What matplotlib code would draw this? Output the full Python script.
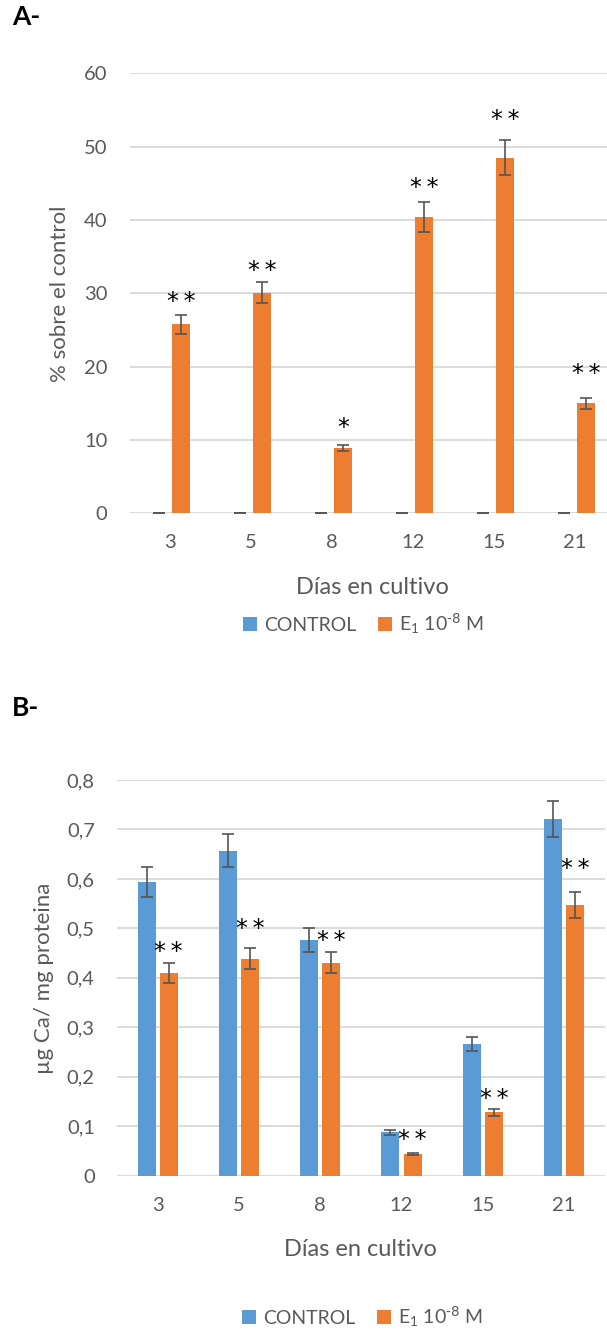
import matplotlib.pyplot as plt
import numpy as np

plt.rcParams["font.family"] = ["Lato", "DejaVu Sans"]
plt.rcParams["mathtext.default"] = "regular"

DAYS = ["3", "5", "8", "12", "15", "21"]
SERIES = ["CONTROL", "E$_{1}$ 10$^{\\text{-8}}$ M"]

# A- : % sobre el control
A_CONTROL = [0, 0, 0, 0, 0, 0]
A_CONTROL_ERR = [0, 0, 0, 0, 0, 0]
A_E1 = [25.8, 30.1, 8.9, 40.4, 48.5, 15.0]
A_E1_ERR = [1.3, 1.45, 0.45, 2.0, 2.4, 0.75]
A_STARS = ["**", "**", "*", "**", "**", "**"]
A_TICKS = [0, 10, 20, 30, 40, 50, 60]
A_TICK_LABELS = ["0", "10", "20", "30", "40", "50", "60"]

# B- : ug Ca / mg proteina
B_CONTROL = [0.594, 0.657, 0.476, 0.088, 0.266, 0.721]
B_CONTROL_ERR = [0.030, 0.033, 0.024, 0.005, 0.014, 0.036]
B_E1 = [0.410, 0.439, 0.431, 0.043, 0.128, 0.547]
B_E1_ERR = [0.021, 0.022, 0.022, 0.002, 0.007, 0.027]
B_STARS = ["**", "**", "**", "**", "**", "**"]
B_TICKS = [0, 0.1, 0.2, 0.3, 0.4, 0.5, 0.6, 0.7, 0.8]
B_TICK_LABELS = ["0", "0,1", "0,2", "0,3", "0,4", "0,5", "0,6", "0,7", "0,8"]

# gap between error bar top and the significance marks
A_STAR_GAP = [2.3, 2.05, 2.9, 2.6, 3.3, 3.85]
B_STAR_GAP = [0.030, 0.047, 0.029, 0.036, 0.029, 0.055]

BLUE = "#5b9bd5"
ORANGE = "#ed7d31"
GRID = "#d9d9d9"
TEXT = "#595959"
ERR = "#555555"

W, H = 607, 1331


def px_axes(fig, left, top, right, bottom):
    return fig.add_axes([left / W, 1 - bottom / H, (right - left) / W, (bottom - top) / H])


def draw_panel(ax, control, control_err, e1, e1_err, stars, gaps, ticks, tick_labels):
    x = np.arange(len(DAYS))
    off, width = 0.136, 0.222
    err_style = dict(ecolor=ERR, elinewidth=1.2, capsize=4.3, capthick=1.2)
    bars_c = ax.bar(x - off, control, width, color=BLUE, yerr=control_err,
                    error_kw=err_style, label=SERIES[0], zorder=2)
    bars_e = ax.bar(x + off, e1, width, color=ORANGE, yerr=e1_err,
                    error_kw=err_style, label=SERIES[1], zorder=2)

    for xi, v, e, s, g in zip(x, e1, e1_err, stars, gaps):
        ax.annotate("\u2009".join(s), (xi + off, v + e + g), ha="center", va="center",
                    xytext=(0, -3), textcoords="offset points",
                    fontsize=17, color="black", family="DejaVu Sans")

    ax.set_xlim(-0.5, len(DAYS) - 0.5)
    ax.set_ylim(ticks[0], ticks[-1])
    ax.set_xticks(x, DAYS)
    ax.set_yticks(ticks, tick_labels)
    ax.set_axisbelow(True)
    ax.yaxis.grid(True, color=GRID, linewidth=1.3)
    for sp in ax.spines.values():
        sp.set_visible(False)
    ax.tick_params(axis="both", length=0, labelsize=14.5, labelcolor=TEXT)
    ax.tick_params(axis="y", pad=16)
    ax.tick_params(axis="x", pad=15)
    return bars_c, bars_e


fig = plt.figure(figsize=(W / 100, H / 100), dpi=100)

ax_a = px_axes(fig, 129.5, 73.4, 615.5, 513.3)
ha = draw_panel(ax_a, A_CONTROL, A_CONTROL_ERR, A_E1, A_E1_ERR, A_STARS,
                A_STAR_GAP, A_TICKS, A_TICK_LABELS)

ax_b = px_axes(fig, 117, 780, 604.7, 1175.7)
hb = draw_panel(ax_b, B_CONTROL, B_CONTROL_ERR, B_E1, B_E1_ERR, B_STARS,
                B_STAR_GAP, B_TICKS, B_TICK_LABELS)

fig.text(12 / W, 1 - 17 / H, "A-", fontsize=19, fontweight="bold", va="center", ha="left")
fig.text(12 / W, 1 - 708 / H, "B-", fontsize=19, fontweight="bold", va="center", ha="left")

fig.text(60 / W, 1 - 293.4 / H, "% sobre el control", rotation=90,
         ha="center", va="center", fontsize=16, color=TEXT)
fig.text(44 / W, 1 - 978 / H, "\u00b5g Ca/ mg proteina", rotation=90,
         ha="center", va="center", fontsize=16, color=TEXT)

fig.text(372.5 / W, 1 - 593.6 / H, "Días en cultivo", ha="center", va="baseline",
         fontsize=17, color=TEXT)
fig.text(360.8 / W, 1 - 1256 / H, "Días en cultivo", ha="center", va="baseline",
         fontsize=17, color=TEXT)

leg_kw = dict(loc="center", ncol=2, frameon=False, fontsize=14, labelcolor=TEXT,
              handlelength=0.75, handleheight=0.75, handletextpad=0.35,
              columnspacing=1.1, borderpad=0)
fig.legend(list(ha), SERIES, bbox_to_anchor=(363.5 / W, 1 - 624 / H), **leg_kw)
fig.legend(list(hb), SERIES, bbox_to_anchor=(362.5 / W, 1 - 1317 / H), **leg_kw)

fig.savefig("out.png", dpi=100)
